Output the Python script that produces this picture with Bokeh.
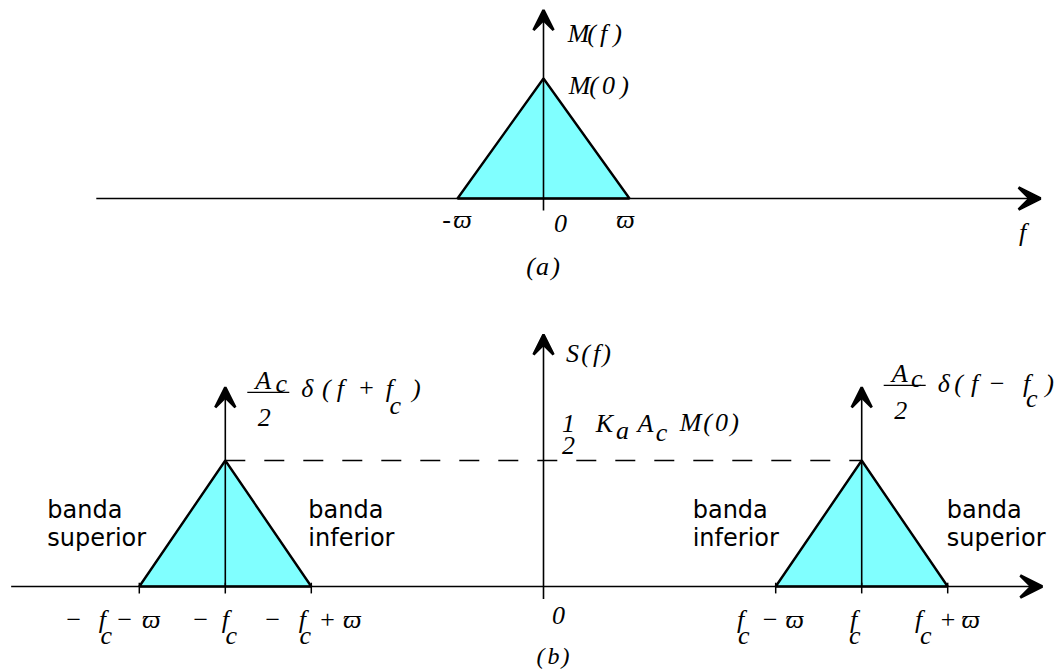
from bokeh.plotting import figure
from bokeh.layouts import column
from bokeh.models import ColumnDataSource, Arrow, VeeHead, Range1d
from bokeh.core.properties import value
from bokeh.embed import file_html
from bokeh.resources import INLINE

# ---- spectrum data (frequency measured in units of the message bandwidth W) ----
W = 1.0                        # message bandwidth
FC = 3.7                       # carrier frequency f_c
msg_freq = [-W, 0.0, W]        # vertices of the triangular message spectrum M(f)
msg_amp = [0.0, 1.0, 0.0]      # M(0) = 1
am_peak = 1.0                  # sideband peak: 1/2 K_a A_c M(0)
impulse_height = 1.58          # drawn weight of the carrier impulses (A_c/2) delta(f -/+ f_c)
axis_top_a = 1.57              # top of the M(f) axis
axis_top_b = 2.0               # top of the S(f) axis
axis_below = -0.1              # vertical axes reach a little under f
f_axis_a = [-5.2, 5.78]        # extent of the f axis, panel (a)
f_axis_b = [-6.19, 5.8]        # extent of the f axis, panel (b)
band_edges = [-FC - W, -FC, -FC + W, FC - W, FC, FC + W]
sideband_centres = [-FC, FC]

# ---- page geometry ----
WIDTH = 1064
H_A, H_B = 290, 380
X0_PX, PX_F = 543, 86.0        # screen x of f = 0, pixels per unit W
PX_A, PX_B = 120.0, 126.0      # pixels per amplitude unit in each panel
AX_A, AX_B = 92, 84            # f axis height above each panel's bottom edge

CYAN = "#80FFFF"
INK = "black"
MATH_FONT = "Liberation Serif"
TEXT_FONT = "DejaVu Sans"
MATH_SIZE = 26


def make_panel(height, px_amp, axis_px):
    fig = figure(width=WIDTH, height=height, output_backend="svg", toolbar_location=None,
                 x_range=Range1d(-X0_PX / PX_F, (WIDTH - X0_PX) / PX_F),
                 y_range=Range1d(-axis_px / px_amp, (height - axis_px) / px_amp),
                 x_axis_location=None, y_axis_location=None, min_border=0)
    fig.grid.visible = False
    fig.outline_line_color = None
    fig.background_fill_color = "white"
    fig.border_fill_color = "white"
    return fig


def arrow(fig, x0, y0, x1, y1, size=22):
    fig.add_layout(Arrow(end=VeeHead(size=size, fill_color=INK, line_color=INK, line_width=2.6),
                         x_start=x0, y_start=y0, x_end=x1, y_end=y1,
                         line_color=INK, line_width=1.6))


def label(fig, x, y, chars, dxs, dys, size=MATH_SIZE, font=MATH_FONT, style="italic", align="center"):
    n = len(chars)
    if not isinstance(dys, list):
        dys = [dys] * n
    src = ColumnDataSource(dict(x=[x] * n, y=[y] * n, t=chars, dx=dxs, dy=dys))
    fig.text("x", "y", text="t", x_offset="dx", y_offset="dy", source=src,
             text_font=value(font), text_font_size=f"{size}px", text_font_style=style,
             text_align=align, text_baseline="alphabetic", text_color=INK)


# ---------------- panel (a): message spectrum M(f) ----------------
pa = make_panel(H_A, PX_A, AX_A)
pa.patch(msg_freq, msg_amp, fill_color=CYAN, line_color=INK, line_width=2.4)
arrow(pa, f_axis_a[0], 0, f_axis_a[1], 0, size=22)
arrow(pa, 0, axis_below, 0, axis_top_a, size=20)

label(pa, 0, axis_top_a, ["M", "(", "f", ")"], [35, 48, 60, 74], 23)
label(pa, 0, msg_amp[1], ["M", "(", "0", ")"], [36, 50, 65, 81], 7)
label(pa, -W, 0, ["-", "ϖ"], [-11, 5], 21)
label(pa, 0, 0, ["0"], [17], 25)
label(pa, W, 0, ["ϖ"], [-4], 21)
label(pa, 0, 0, ["(", "a", ")"], [-13, -1, 12], 68)
label(pa, f_axis_a[1], 0, ["f"], [-18], 34)

# ---------------- panel (b): AM spectrum S(f) ----------------
pb = make_panel(H_B, PX_B, AX_B)
for fc in sideband_centres:
    pb.patch([fc + f for f in msg_freq], [am_peak * a for a in msg_amp],
             fill_color=CYAN, line_color=INK, line_width=2.4)
pb.segment(x0=band_edges, y0=[0.03] * len(band_edges),
           x1=band_edges, y1=[-0.055] * len(band_edges), line_color=INK, line_width=1.5)
pb.line([sideband_centres[0], sideband_centres[1]], [am_peak, am_peak],
        line_color=INK, line_width=1.5, line_dash="20 19")
arrow(pb, f_axis_b[0], 0, f_axis_b[1], 0, size=22)
arrow(pb, 0, axis_below, 0, axis_top_b, size=20)
for fc in sideband_centres:
    arrow(pb, fc, 0, fc, impulse_height, size=20)

# axis titles and level
label(pb, 0, axis_top_b, ["S", "(", "f", ")"], [29, 42, 53, 63], 19)
label(pb, 0, am_peak,
      ["1", "2", "K", "a", "A", "c", "M", "(", "0", ")"],
      [25, 25, 61, 79, 102, 118, 147, 164, 178, 191],
      [-37, -15, -37, -30, -37, -28, -38, -38, -38, -38])

# impulse weights (A_c/2) delta(f + f_c) and (A_c/2) delta(f - f_c)
for fc, ops, dxs, dys, bar_dy in [
    (-FC, ["A", "c", "2", "δ", "(", "f", "+", "f", "c", ")"],
     [38, 56, 39, 82, 101, 115, 141, 164, 170, 191],
     [-7, -4, 30, 1, 1, 1, 0, 1, 18, 1], 5),
    (FC, ["A", "c", "2", "δ", "(", "f", "−", "f", "c", ")"],
     [38, 55, 39, 82, 97, 113, 135, 165, 170, 188],
     [-14, -9, 23, -4, -4, -4, -4, -4, 11, -4], -2),
]:
    label(pb, fc, impulse_height, ops, dxs, dys)
    pb.segment(x0=[fc + 22 / PX_F], y0=[impulse_height - bar_dy / PX_B],
               x1=[fc + 64 / PX_F], y1=[impulse_height - bar_dy / PX_B],
               line_color=INK, line_width=1.3)

# frequency labels under the axis
MAIN, SUB = 33, 49
label(pb, -FC - W, 0, ["−", "f", "c", "−", "ϖ"], [-66, -37, -33, -15, 12], [MAIN, MAIN, SUB, MAIN, MAIN])
label(pb, -FC, 0, ["−", "f", "c"], [-25, 0, 6], [MAIN, MAIN, SUB])
label(pb, -FC + W, 0, ["−", "f", "c", "+", "ϖ"], [-39, -9, -6, 16, 41], [MAIN, MAIN, SUB, MAIN, MAIN])
label(pb, FC - W, 0, ["f", "c", "−", "ϖ"], [-35, -32, -6, 19], [MAIN, SUB, MAIN, MAIN])
label(pb, FC, 0, ["f", "c"], [-8, -7], [MAIN, SUB])
label(pb, FC + W, 0, ["f", "c", "+", "ϖ"], [-29, -22, 0, 23], [MAIN, SUB, MAIN, MAIN])
label(pb, 0, 0, ["0"], [15], 29)
label(pb, 0, 0, ["(", "b", ")"], [-3, 10, 22], 69, size=24)

# sideband names
for edge, dx, words in [
    (-FC - W, -92, ["banda", "superior"]),
    (-FC + W, -3, ["banda", "inferior"]),
    (FC - W, -83, ["banda", "inferior"]),
    (FC + W, -1, ["banda", "superior"]),
]:
    label(pb, edge, 0, words, [dx, dx], [-77, -49], size=24, font=TEXT_FONT, style="normal", align="left")

layout = column(pa, pb, spacing=0)
open("out.html", "w").write(file_html(layout, INLINE))
